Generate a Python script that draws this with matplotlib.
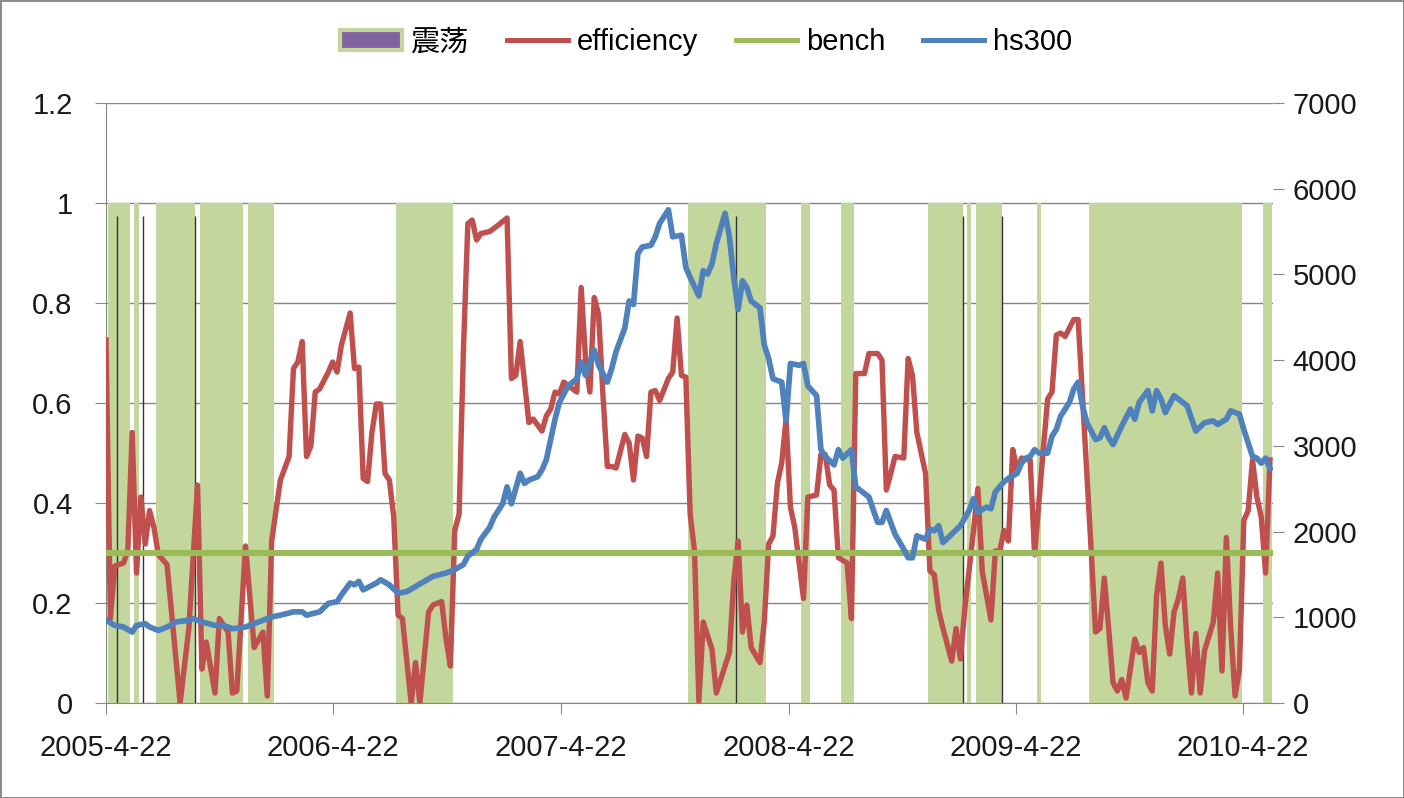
import numpy as np
import pandas as pd
import matplotlib
matplotlib.use('Agg')
import matplotlib.pyplot as plt
from matplotlib.patches import Patch
from matplotlib.lines import Line2D

plt.rcParams['font.family'] = ['Liberation Sans', 'Noto Sans CJK SC', 'DejaVu Sans']

start = pd.Timestamp('2005-04-22')   # weekly data, x = weeks since start

# efficiency (left axis) - turning points
eff_week = [0, 1, 2, 4, 5, 6, 7, 8, 9, 10, 11, 12, 14, 17, 19, 21, 22, 23, 25, 26,
            28, 29, 30, 32, 34, 36, 37, 38, 40, 42, 43, 44, 45, 46, 47, 48, 49, 51, 52, 53,
            54, 56, 57, 58, 59, 60, 61, 62, 63, 64, 65, 66, 67, 68, 70, 71, 72, 74, 75, 77,
            78, 79, 80, 81, 82, 83, 84, 85, 86, 88, 90, 92, 93, 94, 95, 97, 98, 100, 101, 102,
            103, 104, 105, 106, 108, 109, 110, 111, 112, 113, 114, 115, 116, 117, 119, 120, 121, 122, 123, 124,
            125, 126, 127, 129, 130, 131, 132, 133, 134, 135, 136, 137, 139, 140, 142, 143, 144, 145, 146, 147,
            148, 150, 151, 152, 153, 154, 155, 156, 157, 158, 160, 161, 163, 164, 165, 166, 167, 168, 170, 171,
            172, 174, 175, 177, 178, 179, 180, 181, 183, 184, 185, 186, 188, 189, 190, 191, 192, 194, 195, 196,
            197, 199, 200, 201, 203, 204, 205, 206, 207, 208, 209, 210, 212, 213, 215, 216, 217, 218, 219, 220,
            221, 222, 223, 226, 227, 228, 229, 230, 231, 232, 233, 234, 236, 237, 238, 239, 240, 241, 242, 243,
            244, 245, 246, 247, 248, 249, 250, 251, 252, 254, 255, 256, 257, 258, 259, 260, 261, 262, 263, 264,
            265, 266, 267]
eff_val = [0.726, 0.169, 0.274, 0.280, 0.304, 0.541, 0.260, 0.412, 0.318, 0.385, 0.351, 0.297, 0.277, 0.0, 0.149, 0.436, 0.068, 0.122, 0.020, 0.169,
           0.142, 0.020, 0.024, 0.314, 0.111, 0.142, 0.014, 0.324, 0.446, 0.493, 0.669, 0.682, 0.723, 0.493, 0.514, 0.622, 0.628, 0.662, 0.682, 0.662,
           0.716, 0.780, 0.669, 0.672, 0.449, 0.443, 0.541, 0.598, 0.598, 0.459, 0.446, 0.372, 0.176, 0.169, 0.0, 0.081, 0.0, 0.182, 0.196, 0.203,
           0.128, 0.074, 0.345, 0.378, 0.709, 0.959, 0.966, 0.926, 0.939, 0.943, 0.956, 0.970, 0.649, 0.655, 0.723, 0.561, 0.568, 0.544, 0.574, 0.588,
           0.622, 0.618, 0.642, 0.635, 0.622, 0.831, 0.689, 0.622, 0.811, 0.777, 0.615, 0.473, 0.473, 0.470, 0.537, 0.520, 0.446, 0.534, 0.530, 0.493,
           0.622, 0.625, 0.605, 0.649, 0.662, 0.770, 0.655, 0.652, 0.378, 0.304, 0.003, 0.162, 0.108, 0.020, 0.074, 0.101, 0.243, 0.324, 0.142, 0.196,
           0.111, 0.081, 0.162, 0.318, 0.334, 0.439, 0.480, 0.568, 0.392, 0.351, 0.209, 0.412, 0.416, 0.497, 0.497, 0.436, 0.426, 0.291, 0.280, 0.169,
           0.659, 0.659, 0.699, 0.699, 0.686, 0.426, 0.459, 0.493, 0.490, 0.689, 0.655, 0.541, 0.459, 0.264, 0.257, 0.186, 0.149, 0.084, 0.149, 0.088,
           0.189, 0.345, 0.429, 0.264, 0.166, 0.304, 0.304, 0.345, 0.324, 0.507, 0.466, 0.490, 0.486, 0.297, 0.507, 0.608, 0.622, 0.736, 0.740, 0.733,
           0.750, 0.767, 0.767, 0.304, 0.142, 0.149, 0.250, 0.149, 0.041, 0.024, 0.047, 0.010, 0.128, 0.101, 0.111, 0.041, 0.024, 0.216, 0.280, 0.155,
           0.098, 0.182, 0.209, 0.250, 0.122, 0.020, 0.139, 0.020, 0.105, 0.162, 0.260, 0.064, 0.331, 0.149, 0.014, 0.068, 0.365, 0.385, 0.486, 0.412,
           0.372, 0.260, 0.486]

# hs300 index (right axis)
hs_week = [0, 2, 4, 6, 7, 9, 10, 12, 14, 16, 19, 20, 22, 25, 27, 29, 32, 35, 38, 40,
           43, 45, 46, 49, 51, 53, 54, 56, 57, 58, 59, 62, 63, 65, 67, 69, 71, 73, 75, 78,
           80, 82, 83, 85, 86, 88, 89, 91, 92, 93, 95, 96, 97, 99, 100, 101, 102, 103, 104, 106,
           108, 109, 110, 112, 113, 115, 116, 117, 119, 120, 121, 122, 123, 125, 126, 127, 129, 130, 132, 133,
           134, 136, 137, 138, 139, 140, 142, 143, 144, 145, 146, 147, 148, 150, 151, 152, 153, 155, 156, 157,
           159, 160, 161, 163, 164, 165, 167, 168, 169, 171, 172, 174, 175, 177, 178, 179, 181, 183, 184, 185,
           186, 188, 189, 190, 191, 192, 194, 196, 198, 199, 200, 202, 203, 204, 206, 207, 209, 210, 211, 212,
           213, 214, 216, 217, 218, 219, 221, 222, 223, 224, 225, 227, 228, 229, 230, 231, 233, 235, 236, 237,
           239, 240, 241, 242, 243, 245, 247, 248, 250, 252, 254, 255, 257, 258, 260, 261, 263, 264, 265, 266,
           267]
hs_val = [966, 906, 887, 828, 906, 926, 887, 847, 887, 946, 966, 985, 946, 906, 906, 867, 887, 946, 1005, 1025,
          1064, 1064, 1025, 1064, 1163, 1182, 1261, 1399, 1379, 1419, 1320, 1399, 1438, 1379, 1281, 1300, 1360, 1419, 1478, 1517,
          1557, 1616, 1714, 1793, 1911, 2049, 2168, 2325, 2522, 2325, 2680, 2562, 2601, 2640, 2719, 2838, 3074, 3311, 3508, 3700,
          3783, 3980, 3823, 4118, 3941, 3744, 3902, 4099, 4375, 4690, 4650, 5242, 5320, 5340, 5439, 5596, 5754, 5439, 5458, 5084,
          4966, 4749, 5045, 5005, 5123, 5360, 5714, 5439, 4966, 4591, 4926, 4847, 4690, 4611, 4178, 4020, 3783, 3744, 3291, 3961,
          3941, 3961, 3700, 3586, 2956, 2877, 2778, 2956, 2857, 2956, 2522, 2443, 2404, 2108, 2108, 2246, 1970, 1793, 1695, 1695,
          1951, 1911, 2030, 2010, 2069, 1872, 1970, 2069, 2246, 2384, 2227, 2286, 2266, 2463, 2581, 2621, 2680, 2798, 2857, 2877,
          2956, 2916, 2916, 3113, 3192, 3350, 3508, 3665, 3744, 3468, 3271, 3074, 3094, 3212, 3094, 3015, 3232, 3429, 3311, 3508,
          3645, 3409, 3645, 3547, 3389, 3586, 3508, 3468, 3173, 3271, 3291, 3251, 3311, 3409, 3370, 3192, 2877, 2857, 2798, 2857,
          2739]

bench_val = 0.3
n_weeks = 268

# weeks flagged as 震荡 (first, last)
osc_spans = [(1, 2), (3, 5), (7, 7), (12, 20), (22, 31), (33, 38), (67, 76), (77, 79),
             (134, 144), (145, 151), (160, 161), (169, 171), (189, 196), (198, 198),
             (200, 205), (214, 214), (226, 256), (257, 260), (266, 267)]
dark_lines = [2.5, 8.5, 20.5, 144.5, 196.5, 205.5]

tick_dates = ['2005-4-22', '2006-4-22', '2007-4-22', '2008-4-22', '2009-4-22', '2010-4-22']

c_osc = '#c3d69b'
c_red = '#c0504d'
c_green = '#9bbb59'
c_blue = '#4f81bd'
c_grid = '#868686'

fig = plt.figure(figsize=(14.04, 7.98), dpi=100)
fig.patch.set_edgecolor('#8c8c8c')
fig.patch.set_linewidth(2)
ax = fig.add_axes([0.0755, 0.119, 0.8312, 0.7519])

osc_weeks = []
for a, b in osc_spans:
    osc_weeks += list(range(a, b + 1))
ax.bar(osc_weeks, [1.0] * len(osc_weeks), width=1.0, color=c_osc, linewidth=0, zorder=1)
ax.vlines(dark_lines, 0, 0.975, color='#333333', linewidth=1, zorder=1.5)

ax.plot(eff_week, eff_val, color=c_red, lw=3.9, zorder=3)
ax.plot(np.arange(n_weeks), [bench_val] * n_weeks, color=c_green, lw=4.4, zorder=4)

ax.set_xlim(0, 267.7)
ax.set_ylim(0, 1.2)
ax.set_yticks(np.arange(0, 1.21, 0.2))
ax.set_yticklabels(['0', '0.2', '0.4', '0.6', '0.8', '1', '1.2'])
ax.yaxis.grid(True, color=c_grid, lw=1)
ax.set_axisbelow(True)

tick_pos = [(pd.Timestamp(d) - start).days / 7 for d in tick_dates]
ax.set_xticks(tick_pos)
ax.set_xticklabels(tick_dates)

for s in ['top', 'right']:
    ax.spines[s].set_visible(False)
for s in ['left', 'bottom']:
    ax.spines[s].set_color(c_grid)
ax.tick_params(axis='x', direction='out', length=8, color=c_grid, labelsize=21, pad=14,
               labelcolor='#1a1a1a')
ax.tick_params(axis='y', direction='out', length=8, color=c_grid, labelsize=21, pad=16,
               labelcolor='#1a1a1a')

ax2 = ax.twinx()
ax2.plot(hs_week, hs_val, color=c_blue, lw=4.1, zorder=5)
ax2.set_ylim(0, 7000)
ax2.set_yticks(range(0, 7001, 1000))
for s in ax2.spines.values():
    s.set_visible(False)
ax2.tick_params(axis='y', direction='out', length=8, color=c_grid, labelsize=21, pad=6,
                labelcolor='#1a1a1a')

handles = [Patch(facecolor='#8064a2', edgecolor=c_osc, linewidth=3),
           Line2D([], [], color=c_red, lw=3.6),
           Line2D([], [], color=c_green, lw=3.6),
           Line2D([], [], color=c_blue, lw=3.6)]
fig.legend(handles, ['震荡', 'efficiency', 'bench', 'hs300'], loc='center',
           bbox_to_anchor=(0.503, 0.947), ncol=4, frameon=False, fontsize=21,
           handlelength=2.1, handletextpad=0.3, columnspacing=1.3)

fig.savefig('out.png', dpi=100)
